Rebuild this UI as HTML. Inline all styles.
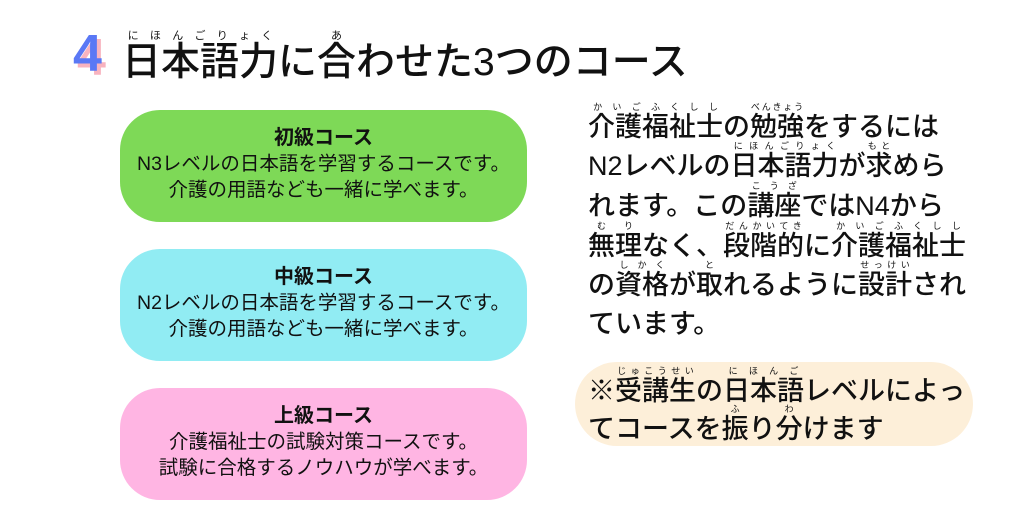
<!DOCTYPE html>
<html><head><meta charset="utf-8"><style>
body{margin:0;width:1024px;height:509px;background:#fff;position:relative;overflow:hidden;font-family:"Liberation Sans","Noto Sans CJK JP",sans-serif;color:#111}
.box{position:absolute;left:120px;width:407px;height:112px;border-radius:40px;text-align:center}
.box .t{font-weight:bold;font-size:20px;margin-top:15px;line-height:26px}
.box .d{font-size:19.5px;line-height:26px}
rt{font-size:9px;font-weight:normal}
.four{position:absolute;left:73px;top:24px;font-size:52px;font-weight:bold;color:#5a78f5;text-shadow:4px 4px 0 #f8b3bf}
.title{position:absolute;left:122px;top:30px;font-size:39px;line-height:62px;white-space:nowrap;font-weight:500}
.title rt{font-size:11px}
.right{position:absolute;left:588px;top:102px;font-size:27px;line-height:39px;width:400px;white-space:nowrap;font-weight:500}
.note{position:absolute;left:575px;top:362px;width:398px;height:84px;border-radius:42px;background:#fdefd9}
.nt{position:absolute;left:588px;top:366px;font-size:27px;line-height:38px;white-space:nowrap;font-weight:500}
</style></head><body>
<div class="four">4</div>
<div class="title"><ruby>日本語力<rt>にほんごりょく</rt></ruby>に<ruby>合<rt>あ</rt></ruby>わせた3つのコース</div>
<div class="box" style="top:110px;background:#7ed957"><div class="t">初級コース</div><div class="d">N3レベルの日本語を学習するコースです。<br>介護の用語なども一緒に学べます。</div></div>
<div class="box" style="top:249px;background:#91ecf3"><div class="t">中級コース</div><div class="d">N2レベルの日本語を学習するコースです。<br>介護の用語なども一緒に学べます。</div></div>
<div class="box" style="top:388px;background:#ffb5e3"><div class="t">上級コース</div><div class="d">介護福祉士の試験対策コースです。<br>試験に合格するノウハウが学べます。</div></div>
<div class="right"><ruby>介護福祉士<rt>かいごふくしし</rt></ruby>の<ruby>勉強<rt>べんきょう</rt></ruby>をするには<br>N2レベルの<ruby>日本語力<rt>にほんごりょく</rt></ruby>が<ruby>求<rt>もと</rt></ruby>めら<br>れます。この<ruby>講座<rt>こうざ</rt></ruby>ではN4から<br><ruby>無理<rt>むり</rt></ruby>なく、<ruby>段階的<rt>だんかいてき</rt></ruby>に<ruby>介護福祉士<rt>かいごふくしし</rt></ruby><br>の<ruby>資格<rt>しかく</rt></ruby>が<ruby>取<rt>と</rt></ruby>れるように<ruby>設計<rt>せっけい</rt></ruby>され<br>ています。</div>
<div class="note"></div>
<div class="nt">※<ruby>受講生<rt>じゅこうせい</rt></ruby>の<ruby>日本語<rt>にほんご</rt></ruby>レベルによっ<br>てコースを<ruby>振<rt>ふ</rt></ruby>り<ruby>分<rt>わ</rt></ruby>けます</div>
</body></html>
